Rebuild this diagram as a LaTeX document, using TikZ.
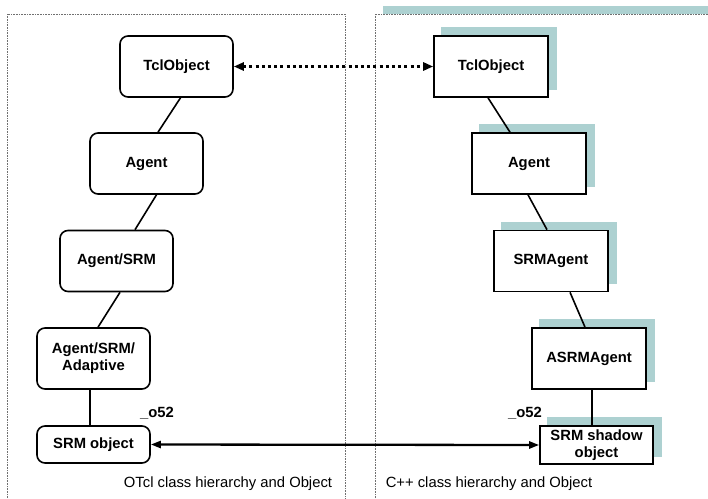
\documentclass[tikz,border=0pt]{standalone}
\usepackage{fontspec}
\setmainfont{Liberation Sans}
\usetikzlibrary{calc,arrows.meta,backgrounds}
\definecolor{shadowteal}{HTML}{ADD1D1}
\definecolor{framegray}{HTML}{707070}
\tikzset{
  x=1pt, y=-1pt,
  every node/.style={font=\fontsize{14.8}{17}\selectfont},
  otclbox/.style={draw, line width=1.6pt, rounded corners=8pt, fill=white,
    minimum width=113pt, minimum height=61pt, inner sep=0pt, align=center,
    font=\fontsize{14.8}{17}\selectfont\bfseries},
  cppbox/.style={draw, line width=1.6pt, fill=white,
    minimum width=114pt, minimum height=61pt, inner sep=0pt, align=center,
    font=\fontsize{14.8}{17}\selectfont\bfseries},
  link/.style={line width=1.6pt},
  frame/.style={draw=framegray, line width=0.8pt, dash pattern=on 0.8pt off 0.8pt},
  objname/.style={font=\fontsize{14.8}{17}\selectfont\bfseries, inner sep=0pt},
  caption/.style={inner sep=0pt}
}
\newcommand{\boxshadow}[1]{%
  \fill[shadowteal] ($(#1.south west)+(8,-8)$) rectangle ($(#1.north east)+(8,-8)$);}
\begin{document}
\begin{tikzpicture}
\useasboundingbox (0,0) rectangle (708,498);
\clip (0,0) rectangle (708,498);

% OTcl side
\node[otclbox] (ltcl) at (176.5,66.5) {TclObject};
\node[otclbox] (lag)  at (146.5,163.5) {Agent};
\node[otclbox] (lsrm) at (116.5,261) {Agent/SRM};
\node[otclbox] (ladp) at (93.5,358.5) {Agent/SRM/\\Adaptive};
\node[otclbox, minimum height=37pt] (lobj) at (93.5,444.5) {SRM object};

% C++ side
\node[cppbox] (rtcl)  at (491,66.5) {TclObject};
\node[cppbox] (rag)   at (529,163.5) {Agent};
\node[cppbox] (rsrm)  at (551,261) {SRMAgent};
\node[cppbox] (rasrm) at (589,358.5) {ASRMAgent};
\node[cppbox, minimum width=113pt, minimum height=38pt] (robj) at (596.5,445) {SRM shadow\\object};

% object handles and captions
\node[objname] (lname) at (157,413) {\_o52};
\node[objname] (rname) at (525,413) {\_o52};
\node[caption] (lcap) at (228,484) {OTcl class hierarchy and Object};
\node[caption] (rcap) at (489,484) {C++ class hierarchy and Object};

\begin{pgfonlayer}{background}
  % enclosing frames
  \fill[shadowteal] (383,6) rectangle (720,14);
  \draw[frame] (7,14) rectangle (345,520);
  \draw[frame] (375,14) rectangle (730,520);
  % drop shadows of the C++ classes
  \boxshadow{rtcl}
  \boxshadow{rag}
  \boxshadow{rsrm}
  \boxshadow{rasrm}
  \boxshadow{robj}
\end{pgfonlayer}

% inheritance links, OTcl
\draw[link] ($(ltcl.south)+(4,0)$) -- ($(lag.north)+(11.5,0)$);
\draw[link] ($(lag.south)+(10,0)$) -- ($(lsrm.north)+(18.5,0)$);
\draw[link] ($(lsrm.south)+(3.5,0)$) -- ($(ladp.north)+(4.5,0)$);
\draw[link] ($(ladp.south)+(-3.5,0)$) -- ($(lobj.north)+(-3.5,0)$);

% inheritance links, C++
\draw[link] ($(rtcl.south)+(-3,0)$) -- ($(rag.north)+(-19,0)$);
\draw[link] ($(rag.south)+(-1,0)$) -- ($(rsrm.north)+(-4,0)$);
\draw[link] ($(rsrm.south)+(19,0)$) -- ($(rasrm.north)+(-4,0)$);
\draw[link] ($(rasrm.south)+(3,0)$) -- ($(robj.north)+(-4.5,0)$);

% correspondences between the two hierarchies
\draw[line width=3pt, dash pattern=on 3pt off 3.2pt,
      {Triangle[length=10pt,width=8pt]}-{Triangle[length=10pt,width=8pt]}]
  (ltcl.east) -- (rtcl.west);
\draw[line width=2.3pt,
      {Triangle[length=10pt,width=7pt]}-{Triangle[length=10pt,width=7pt]}]
  (lobj.east) -- (robj.west);
\end{tikzpicture}
\end{document}
